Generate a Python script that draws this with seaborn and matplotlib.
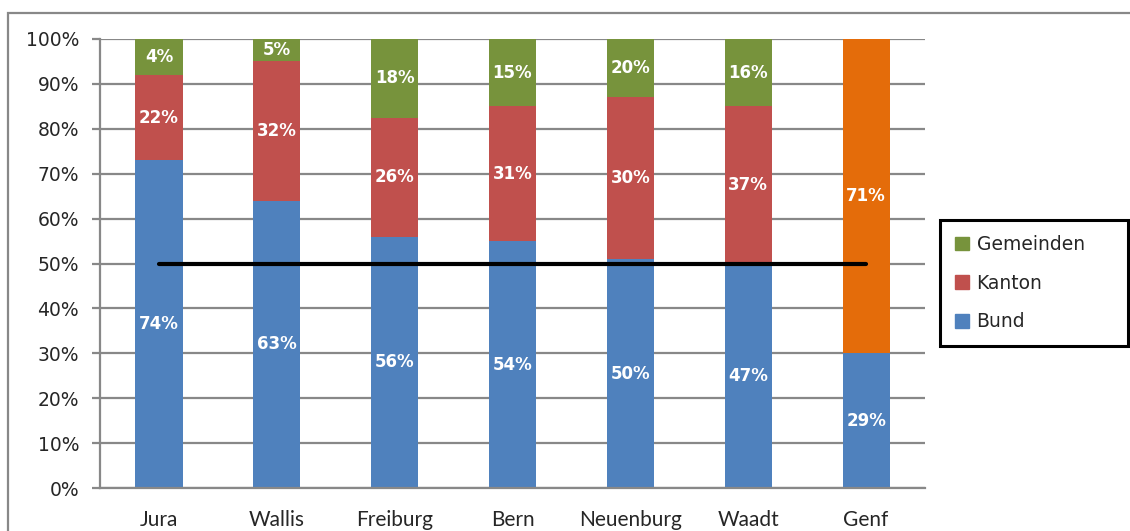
import matplotlib
matplotlib.use("Agg")
import matplotlib.pyplot as plt
import matplotlib.patches as mpatches
import seaborn as sns
import numpy as np

# data
kantone = ["Jura", "Wallis", "Freiburg", "Bern", "Neuenburg", "Waadt", "Genf"]
bund = [73, 64, 56, 55, 51, 50, 30]
kanton = [19, 31, 26.5, 30, 36, 35, 70]
gemeinden = [8, 5, 17.5, 15, 13, 15, 0]
# printed labels (%)
bund_lbl = [74, 63, 56, 54, 50, 47, 29]
kanton_lbl = [22, 32, 26, 31, 30, 37, 71]
gem_lbl = [4, 5, 18, 15, 20, 16, None]
mittel = 50

c_bund = "#4F81BD"
c_kanton = "#C0504D"
c_gem = "#77933C"
c_genf = "#E46C0A"

sns.set_style("white")
plt.rcParams["font.family"] = ["DejaVu Sans"]

fig = plt.figure(figsize=(11.3, 5.31), dpi=100)
ax = fig.add_axes([100 / 1130, 1 - 488 / 531, 825 / 1130, 449 / 531])

b = np.array(bund)
k = np.array(kanton)
g = np.array(gemeinden)

# stacked bars: draw cumulative totals from the top down
sns.barplot(x=kantone, y=b + k + g, color=c_gem, width=0.4, ax=ax, saturation=1)
sns.barplot(x=kantone, y=b + k, hue=kantone,
            palette=[c_kanton] * 6 + [c_genf], width=0.4, ax=ax,
            saturation=1, legend=False)
sns.barplot(x=kantone, y=b, color=c_bund, width=0.4, ax=ax, saturation=1)

for p in ax.patches:
    p.set_edgecolor("none")

# value labels
lbl_kw = dict(ha="center", va="center", color="white", fontsize=12,
              fontweight="bold", family="DejaVu Sans")
for i in range(len(kantone)):
    ax.text(i, b[i] / 2, f"{bund_lbl[i]}%", **lbl_kw)
    ax.text(i, b[i] + k[i] / 2, f"{kanton_lbl[i]}%", **lbl_kw)
    if gem_lbl[i] is not None:
        ax.text(i, b[i] + k[i] + g[i] / 2, f"{gem_lbl[i]}%", **lbl_kw)

# 50% line
ax.plot([0, len(kantone) - 1], [mittel, mittel], color="black", lw=3,
        solid_capstyle="round", zorder=5)

ax.set_ylim(0, 100)
ax.set_xlim(-0.5, 6.5)
ax.set_yticks(np.arange(0, 101, 10))
ax.set_yticklabels([f"{v}%" for v in range(0, 101, 10)], fontsize=13.5)
ax.yaxis.grid(True, color="#888888", lw=1.6)
ax.set_axisbelow(True)

ax.set_xticks(range(len(kantone)))
ax.set_xticklabels(kantone, fontsize=15, family="Lato")
ax.set_xticks(np.arange(-0.5, 7, 1), minor=True)
ax.tick_params(axis="x", which="major", length=0, pad=16)
ax.tick_params(axis="x", which="minor", length=7, width=1.6, color="#888888",
               direction="out")
ax.tick_params(axis="y", length=6, width=1.6, color="#888888", direction="out",
               left=True, pad=9)

for s in ["top", "right"]:
    ax.spines[s].set_visible(False)
for s in ["left", "bottom"]:
    ax.spines[s].set_color("#888888")
    ax.spines[s].set_linewidth(1.6)
ax.set_xlabel("")
ax.set_ylabel("")

handles = [mpatches.Patch(color=c_gem, label="Gemeinden"),
           mpatches.Patch(color=c_kanton, label="Kanton"),
           mpatches.Patch(color=c_bund, label="Bund")]
leg = fig.legend(handles=handles, loc="upper left", mode="expand",
                 bbox_to_anchor=(940 / 1130, 1 - 220 / 531, 188 / 1130, 0),
                 fontsize=13.5, frameon=True, fancybox=False, framealpha=1,
                 handlelength=0.75, handleheight=0.75, handletextpad=0.4,
                 labelspacing=1.05, borderpad=0.8, borderaxespad=0)
leg.get_frame().set_edgecolor("black")
leg.get_frame().set_linewidth(2.2)

# outer chart border
fig.patches.append(mpatches.Rectangle((8 / 1130, -0.1), 2, 1.1 - 13 / 531,
                                      transform=fig.transFigure, fill=False,
                                      edgecolor="#888888", lw=1.6))

fig.savefig("out.png", dpi=100)
